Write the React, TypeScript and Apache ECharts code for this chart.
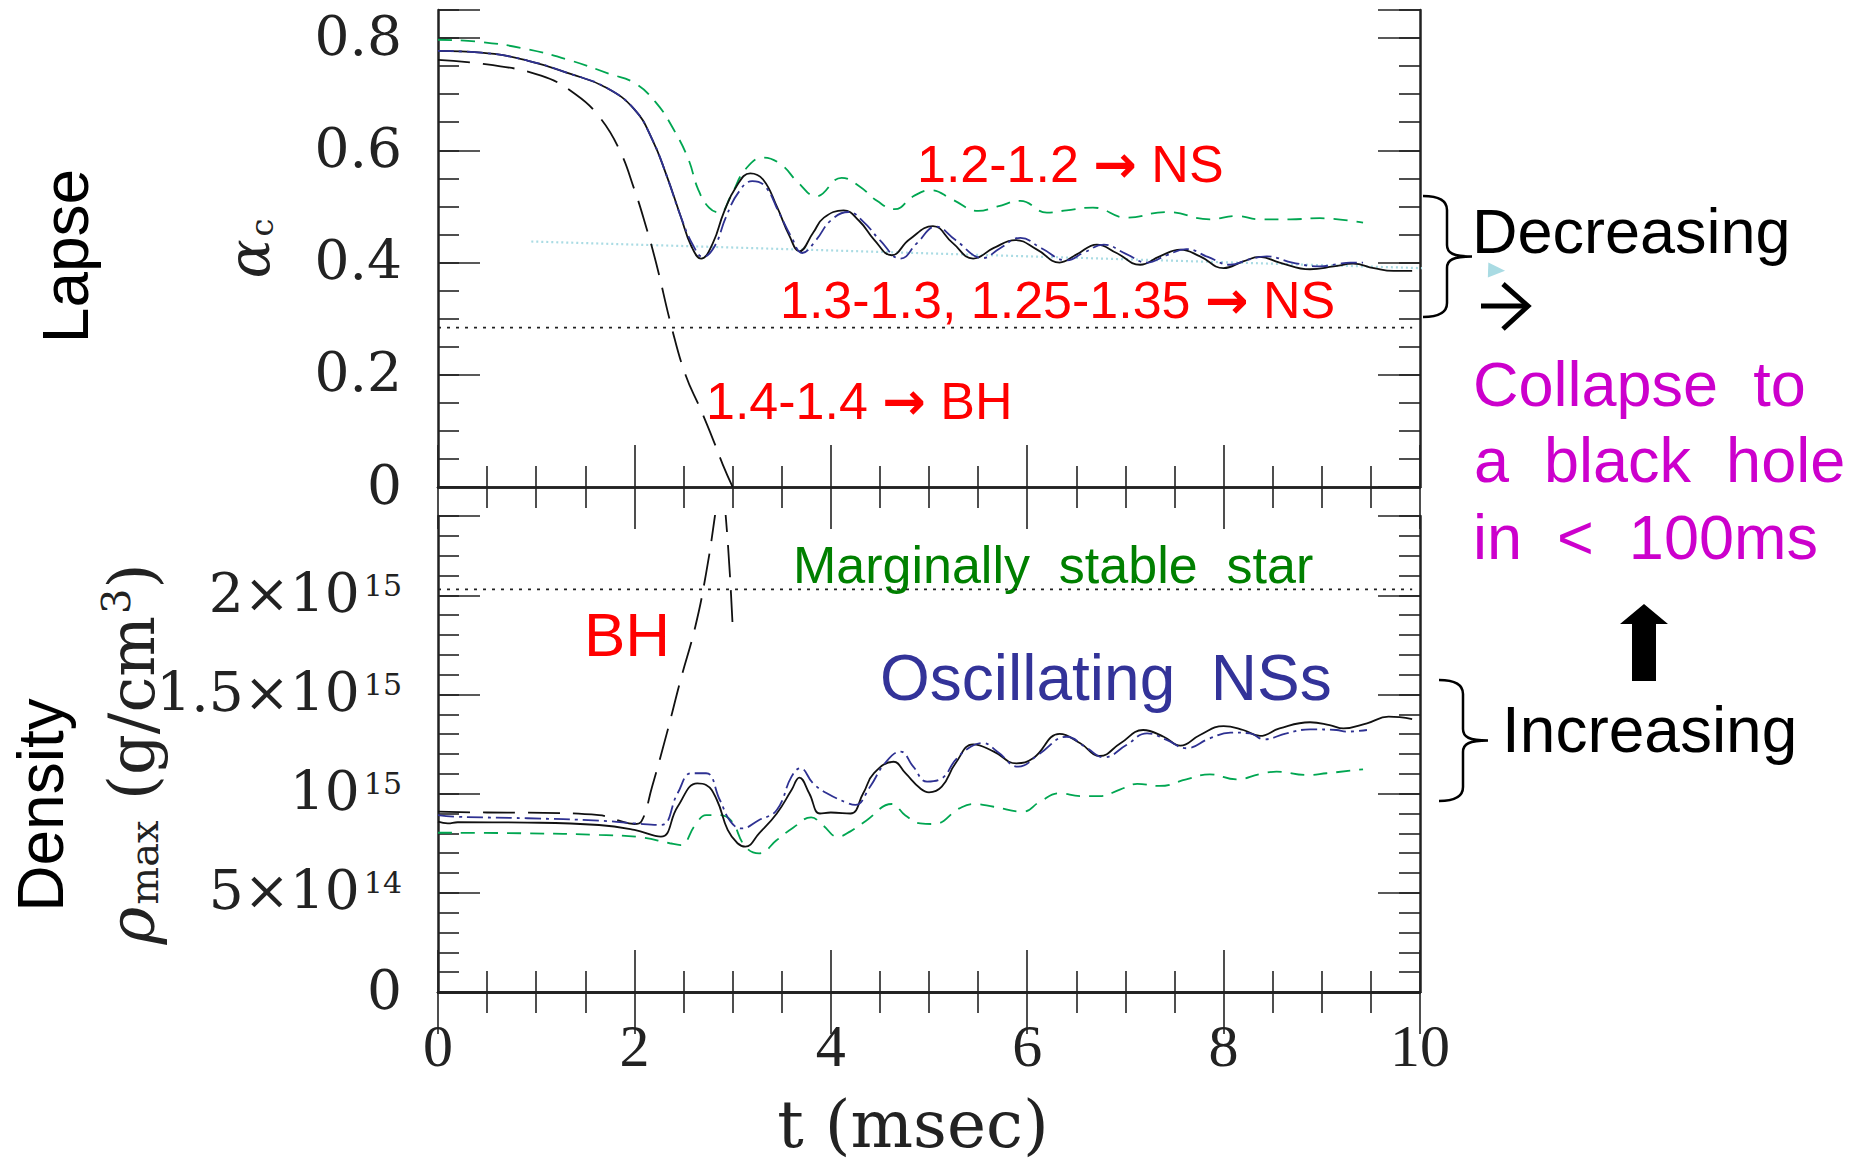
import React, { useEffect, useRef } from 'react';
import * as echarts from 'echarts';

// ---- tick labels ----
const timeTicks = ['0', '2', '4', '6', '8', '10'];
const lapseTicks = ['0', '0.2', '0.4', '0.6', '0.8'];
const densityTickBase = ['0', '5×10', '10', '1.5×10', '2×10'];
const densityTickExp = ['', '14', '15', '15', '15'];

// ---- central lapse alpha_c(t), t in msec ----
const lapse12: [number, number][] = [
  [0, 0.797], [0.44, 0.793], [0.91, 0.78], [1.35, 0.76], [1.75, 0.736], [2.0, 0.72], [2.22, 0.685],
  [2.4, 0.637], [2.55, 0.584], [2.65, 0.53], [2.76, 0.498], [2.87, 0.489], [2.98, 0.518], [3.13, 0.566],
  [3.31, 0.587], [3.49, 0.575], [3.67, 0.542], [3.85, 0.518], [4.11, 0.551], [4.29, 0.536], [4.47, 0.51],
  [4.65, 0.495], [4.84, 0.518], [5.02, 0.529], [5.24, 0.512], [5.5, 0.492], [5.7, 0.5], [5.93, 0.51],
  [6.2, 0.489], [6.4, 0.493], [6.67, 0.498], [7.01, 0.48], [7.42, 0.49], [7.86, 0.477], [8.13, 0.483],
  [8.37, 0.477], [8.68, 0.477], [8.98, 0.479], [9.42, 0.471],
];
const lapse13: [number, number][] = [
  [0, 0.777], [0.44, 0.774], [0.91, 0.76], [1.35, 0.736], [1.71, 0.712], [2.0, 0.673], [2.18, 0.62],
  [2.33, 0.554], [2.47, 0.483], [2.58, 0.429], [2.68, 0.407], [2.8, 0.435], [2.91, 0.489], [3.04, 0.536],
  [3.18, 0.559], [3.31, 0.548], [3.45, 0.5], [3.58, 0.447], [3.68, 0.42], [3.82, 0.453], [3.93, 0.48],
  [4.13, 0.493], [4.29, 0.474], [4.44, 0.441], [4.62, 0.413], [4.8, 0.441], [5.04, 0.465], [5.24, 0.435],
  [5.45, 0.407], [5.66, 0.426], [5.88, 0.44], [6.1, 0.423], [6.33, 0.4], [6.5, 0.414], [6.71, 0.432],
  [6.91, 0.417], [7.15, 0.396], [7.35, 0.411], [7.56, 0.423], [7.76, 0.411], [8.0, 0.39], [8.2, 0.402],
  [8.37, 0.41], [8.57, 0.4], [8.88, 0.388], [9.12, 0.393], [9.32, 0.398], [9.53, 0.39], [9.73, 0.385],
  [9.92, 0.385],
];
const lapse125: [number, number][] = [
  [0, 0.777], [0.44, 0.774], [0.91, 0.76], [1.35, 0.736], [1.71, 0.712], [2.0, 0.673], [2.18, 0.62],
  [2.33, 0.554], [2.47, 0.483], [2.6, 0.43], [2.7, 0.41], [2.82, 0.43], [2.93, 0.48], [3.06, 0.525],
  [3.2, 0.545], [3.33, 0.536], [3.47, 0.49], [3.6, 0.445], [3.71, 0.417], [3.85, 0.44], [4.0, 0.475],
  [4.18, 0.49], [4.33, 0.473], [4.5, 0.44], [4.71, 0.407], [4.88, 0.435], [5.07, 0.464], [5.27, 0.44],
  [5.55, 0.408], [5.72, 0.425], [5.93, 0.444], [6.15, 0.425], [6.4, 0.404], [6.58, 0.418], [6.78, 0.432],
  [7.0, 0.416], [7.22, 0.4], [7.42, 0.413], [7.62, 0.424], [7.84, 0.41], [8.07, 0.396], [8.25, 0.405],
  [8.44, 0.411], [8.7, 0.4], [8.98, 0.393], [9.15, 0.397], [9.29, 0.4], [9.42, 0.4],
];
const lapse14: [number, number][] = [
  [0, 0.761], [0.5, 0.753], [1.05, 0.733], [1.4, 0.7], [1.65, 0.658], [1.85, 0.6], [2.0, 0.53],
  [2.1, 0.475], [2.22, 0.4], [2.38, 0.284], [2.52, 0.2], [2.67, 0.14], [2.8, 0.085], [2.9, 0.04], [3.0, 0.0],
];
const lapseCritical = 0.284;
const lapseTrend: [number, number][] = [[0.95, 0.4375], [10.78, 0.386]];

// ---- maximum density, in units of 1e15 g/cm^3 ----
const rho12: [number, number][] = [
  [0, 0.803], [0.91, 0.8], [1.64, 0.792], [2.07, 0.78], [2.36, 0.75], [2.47, 0.741], [2.62, 0.842],
  [2.73, 0.892], [2.84, 0.892], [2.98, 0.867], [3.13, 0.733], [3.27, 0.699], [3.45, 0.766], [3.62, 0.83],
  [3.8, 0.88], [3.92, 0.84], [4.07, 0.783], [4.2, 0.81], [4.36, 0.864], [4.62, 0.948], [4.76, 0.89],
  [4.91, 0.85], [5.05, 0.847], [5.31, 0.926], [5.45, 0.948], [5.66, 0.934], [5.96, 0.909], [6.13, 0.96],
  [6.33, 1.002], [6.54, 0.988], [6.74, 0.988], [6.95, 1.022], [7.12, 1.049], [7.35, 1.039], [7.62, 1.072],
  [7.86, 1.097], [8.13, 1.072], [8.37, 1.099], [8.54, 1.111], [8.85, 1.094], [9.05, 1.103], [9.42, 1.123],
];
const rho13: [number, number][] = [
  [0, 0.859], [0.1, 0.85], [0.2, 0.856], [0.91, 0.854], [1.64, 0.842], [2.0, 0.817], [2.27, 0.783],
  [2.44, 0.934], [2.64, 1.052], [2.73, 1.044], [2.84, 0.968], [2.95, 0.817], [3.05, 0.75], [3.13, 0.733],
  [3.27, 0.8], [3.45, 0.9], [3.6, 1.018], [3.68, 1.081], [3.78, 1.002], [3.89, 0.9], [4.0, 0.905],
  [4.2, 0.9], [4.33, 1.002], [4.44, 1.103], [4.64, 1.161], [4.76, 1.103], [4.91, 1.027], [5.0, 1.007],
  [5.13, 1.035], [5.27, 1.153], [5.45, 1.249], [5.66, 1.212], [5.89, 1.153], [6.06, 1.178], [6.33, 1.301],
  [6.54, 1.254], [6.74, 1.19], [6.95, 1.254], [7.18, 1.321], [7.39, 1.287], [7.56, 1.242], [7.76, 1.296],
  [8.0, 1.341], [8.2, 1.321], [8.37, 1.291], [8.57, 1.329], [8.88, 1.36], [9.08, 1.346], [9.22, 1.329],
  [9.46, 1.355], [9.68, 1.388], [9.92, 1.376],
];
const rho125: [number, number][] = [
  [0, 0.892], [0.18, 0.884], [0.91, 0.876], [1.64, 0.864], [2.0, 0.85], [2.27, 0.842], [2.44, 1.002],
  [2.58, 1.103], [2.73, 1.103], [2.87, 0.968], [2.98, 0.859], [3.09, 0.825], [3.27, 0.867], [3.45, 0.918],
  [3.6, 1.086], [3.69, 1.128], [3.82, 1.052], [3.96, 1.002], [4.18, 0.951], [4.25, 0.943], [4.4, 1.035],
  [4.55, 1.153], [4.71, 1.212], [4.84, 1.136], [4.98, 1.061], [5.13, 1.077], [5.27, 1.17], [5.42, 1.235],
  [5.55, 1.255], [5.7, 1.21], [5.91, 1.136], [6.13, 1.203], [6.4, 1.287], [6.61, 1.229], [6.78, 1.183],
  [7.01, 1.245], [7.22, 1.304], [7.42, 1.271], [7.62, 1.229], [7.86, 1.279], [8.07, 1.308], [8.27, 1.304],
  [8.41, 1.274], [8.64, 1.304], [8.88, 1.324], [9.15, 1.321], [9.25, 1.313], [9.46, 1.321],
];
const rho14: [number, number][] = [
  [0, 0.909], [0.5, 0.905], [0.91, 0.904], [1.64, 0.892], [1.82, 0.867], [2.0, 0.847], [2.07, 0.859],
  [2.18, 1.035], [2.33, 1.304], [2.47, 1.573], [2.62, 1.842], [2.73, 2.111], [2.82, 2.4], [2.87, 2.6],
  [2.93, 2.4], [3.0, 1.85],
];
const rhoMarginal = 2.03;

// ---- colours & fonts ----
const INK = '#222222';
const GREEN_LINE = '#00a651';
const BLUE_LINE = '#2e3192';
const RED = '#ff0000';
const SANS = "'Liberation Sans', Arial, sans-serif";
const SERIF = "'DejaVu Serif', serif";

// curly brace, drawn in pixels (49 x 121)
const BRACE_D =
  'M0 0 C14 0 24 3 24 14 L24 49 C24 57 30 60.5 49 60.5 C30 60.5 24 64 24 72 L24 107 C24 118 14 121 0 121';
echarts.graphic.registerShape('brace', echarts.graphic.extendPath(BRACE_D, {}) as any);

const tickStyle = { color: INK, width: 1.6 };
const frameLine = { show: true, lineStyle: { color: INK, width: 2.5 } };

// x axes of one panel: optional label-only axis, a tick axis at the bottom and one at the top
function xAxes(gridIndex: number, withLabels: boolean) {
  const base = { type: 'value', gridIndex, min: 0, max: 10, interval: 2, splitLine: { show: false } };
  const ticks = {
    ...base,
    axisLine: frameLine,
    axisTick: { show: true, inside: true, length: 42, lineStyle: tickStyle },
    minorTick: { show: true, splitNumber: 4, length: 21, lineStyle: tickStyle },
    axisLabel: { show: false },
  };
  const list: any[] = [];
  if (withLabels) {
    list.push({
      ...base,
      position: 'bottom',
      axisLine: frameLine,
      axisTick: { show: false },
      axisLabel: {
        show: true, margin: 24, color: INK, fontFamily: "'Liberation Serif', serif", fontSize: 60,
        formatter: (v: number) => timeTicks[Math.round(v / 2)] ?? '',
      },
      name: 't (msec)', nameLocation: 'middle', nameGap: 102,
      nameTextStyle: { fontFamily: SERIF, fontSize: 66, lineHeight: 60, color: INK, padding: [0, 32, 0, 0] },
    });
  }
  list.push({ ...ticks, position: 'bottom' });
  list.push({ ...ticks, position: 'top' });
  return list;
}

// y axes of one panel: label axis, long ticks left/right, short ticks left/right
function yAxes(gridIndex: number, max: number, major: number, minor: number, labelFmt: (v: number) => string, name: any) {
  const base = { type: 'value', gridIndex, min: 0, max, splitLine: { show: false }, minorTick: { show: false } };
  const rich = {
    b: { fontFamily: SERIF, fontSize: 55, lineHeight: 60, color: INK, verticalAlign: 'top' },
    s: { fontFamily: SERIF, fontSize: 30, lineHeight: 30, color: INK, padding: [5, 0, 0, 4], verticalAlign: 'top' },
  };
  const tickAxis = (position: string, interval: number, length: number, line: boolean) => ({
    ...base, position, interval,
    axisLine: line ? frameLine : { show: false },
    axisTick: { show: true, inside: true, length, lineStyle: tickStyle },
    axisLabel: { show: false },
  });
  return [
    {
      ...base, position: 'left', interval: major,
      axisLine: frameLine,
      axisTick: { show: false },
      axisLabel: { show: true, margin: 36, formatter: labelFmt, rich },
      nameMoveOverlap: false,
      ...name,
    },
    tickAxis('left', major, 42, false),
    tickAxis('left', minor, 21, false),
    tickAxis('right', major, 42, true),
    tickAxis('right', minor, 21, false),
  ];
}

const lapseLabel = (v: number) => {
  const i = Math.round(v / 0.2);
  return Math.abs(v - i * 0.2) < 1e-6 && i < lapseTicks.length ? `{b|${lapseTicks[i]}}` : '';
};
const densityLabel = (v: number) => {
  const i = Math.round(v / 0.5);
  if (Math.abs(v - i * 0.5) > 1e-6 || i >= densityTickBase.length) return '';
  return densityTickExp[i] ? `{b|${densityTickBase[i]}}{s|${densityTickExp[i]}}` : `{b|${densityTickBase[i]}}`;
};

// axis indices used by the series of each panel
const X_OF = [0, 2];
const Y_OF = [0, 5];

function curve(data: any[], panel: number, color: string, type: any, width = 1.8) {
  return {
    type: 'line', data, xAxisIndex: X_OF[panel], yAxisIndex: Y_OF[panel],
    symbol: 'none', smooth: 0.45, silent: true,
    lineStyle: { color, width, type },
  };
}

const ARROW_RICH = { a: { fontFamily: "'DejaVu Sans', sans-serif", fontWeight: 'bold', fontSize: 52, fill: RED } };

function text(str: string, x: number, y: number, fill: string, fontSize: number, rich?: any) {
  return {
    type: 'text', x, y, silent: true,
    style: { text: str, fill, fontSize, fontFamily: SANS, textAlign: 'left', textVerticalAlign: 'middle', ...(rich ? { rich } : {}) },
  };
}

export default function App() {
  const ref = useRef<HTMLDivElement>(null);

  useEffect(() => {
    if (!ref.current) return;
    const chart = echarts.init(ref.current, undefined, { renderer: 'svg' });

    const option: any = {
      animation: false,
      backgroundColor: '#ffffff',
      grid: [
        { left: 438, top: 10, width: 982, height: 477 },
        { left: 438, top: 516, width: 982, height: 476 },
      ],
      xAxis: [...xAxes(0, false), ...xAxes(1, true)],
      yAxis: [
        ...yAxes(0, 0.85, 0.2, 0.05, lapseLabel, {
          name: '{a|α}{c|c}', nameLocation: 'middle', nameRotate: 90, nameGap: 160,
          nameTextStyle: {
            rich: {
              a: { fontFamily: SERIF, fontStyle: 'italic', fontSize: 58, lineHeight: 60, color: INK, verticalAlign: 'bottom' },
              c: { fontFamily: SERIF, fontSize: 32, lineHeight: 30, color: INK, padding: [16, 0, 0, 3], verticalAlign: 'bottom' },
            },
          },
        }),
        ...yAxes(1, 2.4, 0.5, 0.1, densityLabel, {
          name: '{r|ρ}{m|max}{p| (g/cm}{u|3}{p|)}', nameLocation: 'middle', nameRotate: 90, nameGap: 274,
          nameTextStyle: {
            rich: {
              r: { fontFamily: SERIF, fontStyle: 'italic', fontSize: 64, lineHeight: 68, color: INK, verticalAlign: 'bottom' },
              m: { fontFamily: SERIF, fontSize: 40, lineHeight: 38, color: INK, padding: [18, 0, 0, 2], verticalAlign: 'bottom' },
              p: { fontFamily: SERIF, fontSize: 64, lineHeight: 68, color: INK, verticalAlign: 'bottom' },
              u: { fontFamily: SERIF, fontSize: 40, lineHeight: 40, color: INK, padding: [0, 0, 0, 2], verticalAlign: 'top' },
            },
          },
        }),
      ],
      series: [
        {
          type: 'line', data: [[0, lapseCritical], [9.92, lapseCritical]], xAxisIndex: X_OF[0], yAxisIndex: Y_OF[0],
          symbol: 'none', silent: true, lineStyle: { color: INK, width: 1.8, type: [3, 6] },
        },
        {
          type: 'line', data: [[0, rhoMarginal], [9.92, rhoMarginal]], xAxisIndex: X_OF[1], yAxisIndex: Y_OF[1],
          symbol: 'none', silent: true, lineStyle: { color: INK, width: 1.8, type: [3, 6] },
        },
        {
          type: 'line', xAxisIndex: X_OF[0], yAxisIndex: Y_OF[0], clip: false, silent: true,
          data: [
            { value: lapseTrend[0], symbol: 'none' },
            { value: lapseTrend[1], symbol: 'triangle', symbolSize: [15, 17], symbolRotate: -92 },
          ],
          showSymbol: true, showAllSymbol: true,
          itemStyle: { color: '#a9dbe3' },
          lineStyle: { color: '#a9dbe3', width: 2.2, type: [2, 3] },
        },
        curve(lapse12, 0, GREEN_LINE, [14, 9]),
        curve(lapse14, 0, '#111111', [32, 13]),
        curve(lapse13, 0, '#111111', 'solid'),
        curve(lapse125, 0, BLUE_LINE, [16, 5, 3, 5]),
        curve(rho12, 1, GREEN_LINE, [14, 9]),
        curve(rho14, 1, '#111111', [32, 13]),
        curve(rho13, 1, '#111111', 'solid'),
        curve(rho125, 1, BLUE_LINE, [16, 5, 3, 5]),
      ],
      graphic: [
        {
          type: 'text', x: 66, y: 256, rotation: Math.PI / 2, silent: true,
          style: { text: 'Lapse', fill: '#000', fontSize: 64, fontFamily: SANS, textAlign: 'center', textVerticalAlign: 'middle' },
        },
        {
          type: 'text', x: 41, y: 805, rotation: Math.PI / 2, silent: true,
          style: { text: 'Density', fill: '#000', fontSize: 64, fontFamily: SANS, textAlign: 'center', textVerticalAlign: 'middle' },
        },
        text('1.2-1.2 {a|→} NS', 917, 164, RED, 52, ARROW_RICH),
        text('1.3-1.3, 1.25-1.35 {a|→} NS', 780, 300, RED, 52, ARROW_RICH),
        text('1.4-1.4 {a|→} BH', 706, 401, RED, 52, ARROW_RICH),
        text('Marginally  stable  star', 793, 565, '#008000', 52),
        text('BH', 584, 634, RED, 62),
        text('Oscillating  NSs', 880, 678, '#333399', 64),
        text('Decreasing', 1472, 231, '#000', 63),
        text('Collapse  to', 1473, 384, '#cc00cc', 63),
        text('a  black  hole', 1474, 460, '#cc00cc', 63),
        text('in  <  100ms', 1473, 537, '#cc00cc', 63),
        text('Increasing', 1502, 730, '#000', 64),
        { type: 'brace', x: 1423, y: 196, silent: true, style: { fill: null, stroke: '#000', lineWidth: 2.5 } },
        { type: 'brace', x: 1439, y: 680, silent: true, style: { fill: null, stroke: '#000', lineWidth: 2.5 } },
        {
          type: 'polyline', silent: true, shape: { points: [[1481, 306], [1526, 306]] },
          style: { stroke: '#000', lineWidth: 5, fill: null },
        },
        {
          type: 'polyline', silent: true, shape: { points: [[1503, 284], [1528, 306], [1503, 329]] },
          style: { stroke: '#000', lineWidth: 5, fill: null },
        },
        {
          type: 'polygon', silent: true,
          shape: { points: [[1644, 604], [1668, 624], [1656, 624], [1656, 681], [1632, 681], [1632, 624], [1620, 624]] },
          style: { fill: '#000' },
        },
      ],
    };

    chart.setOption(option);
    return () => chart.dispose();
  }, []);

  return (
    <div
      ref={ref}
      style={{ position: 'absolute', left: 0, top: 0, width: 1856, height: 1162, background: '#fff' }}
    />
  );
}
